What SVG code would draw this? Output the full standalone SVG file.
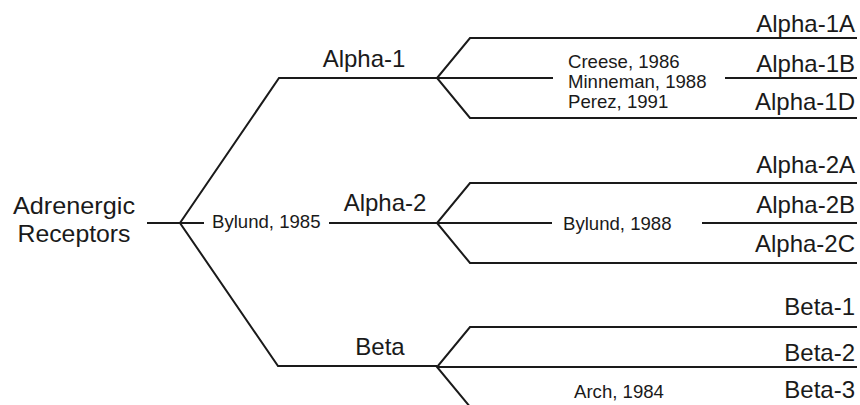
<svg xmlns="http://www.w3.org/2000/svg" width="860" height="405" viewBox="0 0 860 405">
<style>
.ln{fill:none;stroke:#1a1a1a;stroke-width:2;stroke-linejoin:miter}
.big{font-family:"Liberation Sans",Arial,sans-serif;font-size:24px;fill:#1a1a1a}
.sm{font-family:"Liberation Sans",Arial,sans-serif;font-size:18.6px;fill:#1a1a1a}
</style>
<rect width="860" height="405" fill="#ffffff"/>
<g id="connectors">
<path class="ln" d="M147,223 H180"/>
<path class="ln" d="M437,78 L279,78 L180,223 L278,366 H437"/>
<path class="ln" d="M180,223 H204"/>
<path class="ln" d="M329,223 H437"/>
<path class="ln" d="M857,38 H470 L437,78 L470,118 H857"/>
<path class="ln" d="M437,78 H553"/>
<path class="ln" d="M725,78 H857"/>
<path class="ln" d="M857,183 H470 L437,223 L470,263 H857"/>
<path class="ln" d="M437,223 H552"/>
<path class="ln" d="M702,223 H857"/>
<path class="ln" d="M857,327 H470 L437,367 L471,408"/>
<path class="ln" d="M437,367 H857"/>
</g>
<g id="root">
<text class="big" x="74" y="214" text-anchor="middle" font-size="22" textLength="122" lengthAdjust="spacingAndGlyphs">Adrenergic</text>
<text class="big" x="74" y="242" text-anchor="middle" font-size="22" textLength="113" lengthAdjust="spacingAndGlyphs">Receptors</text>
</g>
<g id="label-bylund1985"><text class="sm" x="212" y="228">Bylund, 1985</text></g>
<g id="alpha1"><text class="big" x="364" y="67" text-anchor="middle">Alpha-1</text></g>
<g id="alpha2"><text class="big" x="385" y="211" text-anchor="middle">Alpha-2</text></g>
<g id="beta"><text class="big" x="380" y="355" text-anchor="middle">Beta</text></g>
<g id="label-alpha1-refs">
<text class="sm" x="568" y="68">Creese, 1986</text>
<text class="sm" x="568" y="88">Minneman, 1988</text>
<text class="sm" x="568" y="108">Perez, 1991</text>
</g>
<g id="label-bylund1988"><text class="sm" x="563" y="230">Bylund, 1988</text></g>
<g id="label-arch1984"><text class="sm" x="574" y="398">Arch, 1984</text></g>
<g id="alpha1a"><text class="big" x="855" y="32" text-anchor="end">Alpha-1A</text></g>
<g id="alpha1b"><text class="big" x="855" y="72" text-anchor="end">Alpha-1B</text></g>
<g id="alpha1d"><text class="big" x="855" y="110" text-anchor="end">Alpha-1D</text></g>
<g id="alpha2a"><text class="big" x="855" y="173" text-anchor="end">Alpha-2A</text></g>
<g id="alpha2b"><text class="big" x="855" y="213" text-anchor="end">Alpha-2B</text></g>
<g id="alpha2c"><text class="big" x="855" y="252" text-anchor="end">Alpha-2C</text></g>
<g id="beta1"><text class="big" x="855" y="315" text-anchor="end">Beta-1</text></g>
<g id="beta2"><text class="big" x="855" y="361" text-anchor="end">Beta-2</text></g>
<g id="beta3"><text class="big" x="855" y="398" text-anchor="end">Beta-3</text></g>
</svg>
